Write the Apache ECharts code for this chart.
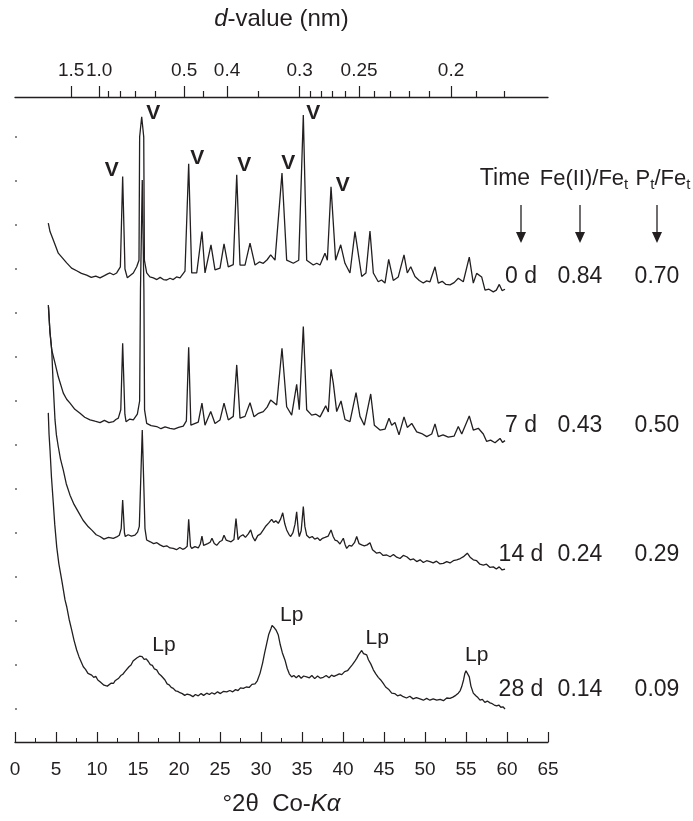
<!DOCTYPE html>
<html>
<head>
<meta charset="utf-8">
<script src="https://cdn.jsdelivr.net/npm/echarts@6/dist/echarts.min.js"></script>
<style>html,body{margin:0;padding:0;background:#fff;}#c{width:693px;height:821px;}</style>
</head>
<body>
<div id="c"></div>
<script>
// ---- data: [2theta (deg, Co-Kalpha), intensity (offset, arbitrary units)] ----
const trace0d = [[4.06,110.4],[4.27,108.5],[4.67,106.6],[5.28,103.6],[5.75,102.6],[6.30,101.4],[6.90,100.2],[7.52,99.6],[8.10,99.0],[8.74,98.6],[9.30,98.1],[9.85,98.4],[10.37,98.0],[10.90,98.5],[11.30,98.9],[11.59,99.1],[12.00,98.7],[12.40,99.1],[12.85,100.5],[13.13,121.0],[13.41,100.0],[13.70,98.0],[14.43,99.1],[14.84,100.5],[15.12,102.0],[15.20,130.0],[15.45,134.6],[15.70,130.0],[15.78,102.0],[16.06,99.1],[16.45,98.2],[16.87,98.0],[17.30,97.6],[17.70,98.1],[18.10,97.6],[18.50,97.5],[18.90,97.9],[19.30,97.6],[19.70,98.2],[20.12,98.0],[20.73,99.5],[21.18,123.9],[21.55,99.1],[22.16,99.1],[22.80,108.5],[23.17,99.1],[23.90,105.5],[24.39,99.8],[25.00,100.2],[25.49,105.7],[26.01,100.5],[26.62,101.0],[27.04,121.4],[27.44,100.9],[28.05,100.9],[28.66,105.9],[29.27,100.9],[29.80,101.6],[30.28,101.3],[30.75,102.1],[31.18,103.2],[31.71,102.0],[32.56,121.8],[33.13,102.0],[33.94,101.3],[34.60,102.0],[35.16,135.0],[35.57,102.0],[36.38,100.9],[36.80,101.3],[37.20,100.9],[37.80,103.6],[38.09,102.0],[38.54,118.7],[38.90,108.0],[39.10,102.0],[39.72,105.5],[40.24,101.3],[40.85,99.1],[41.46,108.5],[42.28,98.3],[42.80,99.1],[43.29,108.6],[43.70,99.1],[44.30,97.1],[44.70,97.5],[45.12,96.8],[45.57,102.2],[46.13,97.4],[46.74,98.2],[47.44,103.2],[47.84,99.1],[48.26,100.5],[48.78,98.3],[49.30,97.4],[49.79,96.8],[50.20,97.3],[50.61,97.1],[51.22,100.5],[51.62,96.8],[52.10,97.2],[52.55,96.5],[53.05,96.4],[53.55,96.9],[54.06,97.9],[54.67,97.1],[55.40,102.7],[55.89,96.8],[56.30,99.0],[56.91,98.2],[57.32,95.2],[57.80,95.4],[58.33,94.8],[58.70,95.2],[59.06,96.5],[59.40,95.1],[59.76,95.4]];

const trace7d = [[4.06,91.8],[4.27,85.5],[4.48,81.6],[4.88,78.6],[5.28,75.5],[5.89,71.8],[6.30,70.4],[6.71,69.5],[7.30,68.1],[7.93,67.2],[8.50,66.3],[9.15,65.7],[9.75,65.4],[10.37,65.1],[10.90,65.6],[11.45,65.1],[11.99,65.3],[12.30,65.8],[12.60,66.1],[12.90,68.0],[13.13,83.1],[13.40,67.0],[13.54,65.3],[14.00,65.9],[14.43,65.7],[14.92,67.0],[15.20,70.0],[15.30,95.0],[15.52,120.2],[15.72,95.0],[15.80,68.0],[16.06,64.9],[16.60,64.4],[17.28,64.2],[17.80,63.7],[18.30,64.1],[18.90,63.8],[19.40,63.6],[19.95,64.0],[20.52,64.3],[20.90,65.5],[21.18,82.2],[21.45,64.5],[21.67,64.2],[22.35,65.2],[22.80,69.5],[23.17,64.5],[23.87,67.6],[24.39,64.9],[25.00,65.7],[25.49,69.5],[26.01,65.7],[26.62,66.5],[27.04,78.2],[27.44,66.1],[28.05,66.5],[28.66,69.6],[29.15,66.4],[29.70,67.2],[30.28,67.6],[30.75,68.6],[31.18,70.2],[31.91,69.1],[32.56,82.0],[33.13,68.7],[33.74,66.8],[34.35,73.8],[34.67,68.0],[35.16,86.9],[35.57,68.0],[36.18,66.8],[36.70,67.0],[37.20,66.4],[37.89,68.9],[38.21,67.5],[38.54,77.2],[38.82,74.0],[39.23,67.6],[39.76,70.0],[40.24,65.8],[40.85,65.3],[41.59,71.9],[42.07,66.5],[42.60,64.5],[43.38,71.6],[43.82,64.5],[44.51,63.4],[45.12,63.6],[45.61,66.1],[45.94,64.5],[46.34,65.1],[46.83,62.3],[47.44,66.4],[47.84,64.0],[48.38,64.9],[48.99,63.0],[49.60,62.6],[50.21,61.9],[50.82,62.5],[51.22,64.8],[51.62,61.9],[52.20,62.3],[52.84,61.8],[53.54,62.0],[54.06,64.2],[54.48,62.5],[55.40,66.6],[55.89,63.4],[56.50,63.8],[57.11,62.5],[57.52,60.8],[58.00,61.1],[58.54,60.5],[59.15,61.5],[59.45,60.6],[59.76,61.0]];

const trace14d = [[4.09,91.4],[4.25,86.0],[4.48,81.6],[4.65,74.0],[4.88,65.7],[5.05,62.3],[5.28,59.6],[5.55,56.8],[5.89,54.3],[6.25,51.2],[6.71,48.6],[7.20,46.5],[7.72,44.8],[8.30,42.9],[8.94,41.4],[9.40,40.6],[9.90,39.6],[10.37,39.2],[10.85,38.6],[11.40,39.0],[11.99,38.8],[12.40,39.1],[12.72,39.5],[12.95,41.0],[13.13,47.5],[13.35,40.0],[13.45,39.2],[13.80,39.6],[14.20,39.3],[14.63,39.5],[14.95,40.2],[15.16,41.5],[15.30,50.0],[15.52,63.4],[15.72,50.0],[15.85,41.0],[16.06,38.4],[16.50,38.0],[16.90,37.6],[17.30,37.8],[17.68,37.3],[18.10,36.9],[18.50,37.1],[18.90,36.6],[19.30,36.5],[19.70,36.2],[20.10,36.7],[20.45,36.3],[20.73,36.5],[21.00,37.0],[21.18,43.1],[21.40,37.0],[21.55,36.5],[21.95,36.9],[22.35,36.6],[22.60,37.5],[22.80,39.3],[23.00,37.2],[23.17,36.8],[23.50,37.6],[23.80,37.9],[24.02,38.8],[24.30,37.6],[24.60,37.2],[24.95,38.0],[25.25,38.3],[25.49,39.5],[25.75,38.4],[26.01,38.2],[26.35,38.0],[26.70,38.5],[26.95,43.3],[27.20,38.5],[27.44,39.2],[27.80,39.6],[28.10,39.0],[28.45,39.8],[28.74,40.7],[29.00,39.1],[29.27,38.2],[29.60,39.4],[29.95,39.8],[30.28,40.7],[30.60,41.6],[30.95,42.3],[31.30,43.1],[31.55,42.4],[31.80,42.8],[32.11,42.2],[32.40,43.2],[32.65,44.6],[32.90,42.1],[33.13,40.7],[33.40,39.7],[33.62,39.2],[33.90,40.1],[34.15,42.0],[34.35,44.8],[34.55,40.5],[34.67,39.2],[34.90,40.5],[35.16,46.0],[35.35,41.5],[35.57,39.5],[35.90,38.9],[36.25,39.2],[36.55,38.6],[36.90,38.9],[37.20,38.3],[37.50,38.8],[37.80,39.0],[38.20,39.3],[38.54,40.7],[38.80,39.2],[39.02,38.4],[39.30,38.2],[39.63,37.5],[40.04,38.8],[40.25,37.4],[40.45,36.5],[40.75,37.2],[41.06,37.0],[41.40,37.8],[41.67,39.2],[41.95,37.6],[42.28,37.3],[42.60,37.1],[42.95,37.3],[43.29,37.8],[43.60,36.2],[44.11,35.4],[44.50,35.6],[44.90,34.9],[45.33,35.0],[45.75,34.6],[46.15,35.1],[46.55,34.5],[46.95,34.2],[47.35,34.9],[47.77,34.6],[48.20,33.9],[48.60,34.1],[48.99,33.5],[49.40,33.9],[49.80,33.3],[50.20,33.7],[50.61,33.5],[51.00,33.2],[51.40,33.6],[51.80,33.0],[52.23,33.1],[52.65,33.5],[53.05,33.2],[53.45,33.7],[53.87,33.9],[54.30,34.2],[54.75,34.7],[55.16,35.4],[55.50,34.5],[55.89,33.9],[56.30,33.7],[56.70,32.9],[57.11,32.7],[57.50,32.9],[57.90,32.2],[58.33,32.3],[58.70,31.8],[59.05,32.3],[59.40,31.6],[59.76,31.8]];

const trace28d = [[4.06,67.3],[4.15,62.5],[4.27,58.9],[4.45,52.6],[4.67,46.8],[4.85,41.9],[5.09,36.8],[5.35,33.0],[5.70,29.3],[6.10,24.8],[6.30,23.3],[6.60,20.4],[6.91,18.0],[7.20,15.6],[7.52,13.4],[7.80,11.9],[8.05,10.8],[8.33,9.6],[8.60,9.0],[8.90,8.1],[9.10,8.4],[9.35,7.7],[9.60,7.2],[9.85,7.4],[10.10,6.6],[10.37,6.2],[10.60,6.0],[10.85,5.4],[11.05,5.7],[11.26,5.2],[11.50,5.3],[11.75,5.9],[12.00,5.8],[12.20,6.4],[12.40,6.6],[12.65,7.0],[12.90,7.6],[13.15,7.9],[13.40,8.5],[13.62,8.9],[13.90,9.6],[14.15,10.0],[14.40,10.9],[14.63,11.1],[14.85,11.6],[15.05,11.3],[15.20,12.0],[15.33,11.8],[15.50,11.9],[15.75,11.3],[16.00,11.4],[16.26,10.8],[16.50,10.1],[16.75,9.9],[17.00,9.1],[17.28,8.9],[17.55,8.0],[17.80,7.6],[18.05,7.1],[18.29,6.6],[18.55,5.7],[18.80,5.5],[19.05,4.9],[19.30,4.7],[19.60,4.1],[19.85,4.0],[20.12,3.7],[20.40,3.5],[20.70,3.1],[21.00,3.4],[21.34,3.2],[21.70,2.8],[22.00,3.3],[22.35,3.0],[22.70,3.5],[23.00,3.1],[23.38,3.6],[23.70,3.3],[24.00,3.7],[24.35,3.4],[24.70,3.9],[25.05,3.5],[25.40,4.0],[25.82,3.9],[26.20,4.2],[26.55,3.9],[26.90,4.4],[27.20,4.2],[27.50,4.8],[27.84,4.7],[28.20,5.0],[28.55,4.9],[28.90,5.6],[29.27,5.7],[29.55,6.4],[29.88,8.1],[30.20,10.5],[30.45,12.8],[30.70,14.9],[30.95,17.0],[31.20,18.2],[31.35,19.0],[31.50,19.1],[31.65,18.4],[31.85,17.9],[32.11,16.8],[32.35,14.6],[32.60,12.8],[32.93,11.1],[33.20,9.2],[33.45,8.0],[33.74,7.3],[34.00,7.6],[34.30,7.1],[34.60,7.6],[34.90,7.0],[35.20,7.5],[35.57,7.3],[35.90,7.1],[36.20,7.6],[36.55,6.9],[36.90,7.5],[37.25,7.0],[37.60,7.2],[37.95,7.6],[38.30,7.1],[38.60,7.7],[38.90,7.4],[39.23,7.7],[39.55,8.0],[39.85,7.8],[40.20,8.5],[40.55,8.7],[40.85,9.4],[41.15,10.1],[41.45,10.9],[41.67,11.5],[41.90,12.3],[42.10,12.6],[42.28,13.3],[42.50,12.6],[42.70,12.9],[42.89,12.3],[43.10,11.2],[43.40,10.2],[43.70,8.9],[44.00,8.0],[44.30,7.2],[44.60,6.6],[44.91,5.8],[45.20,5.0],[45.55,4.5],[45.94,3.6],[46.30,3.5],[46.65,3.0],[47.00,3.2],[47.35,2.8],[47.75,2.5],[48.15,2.9],[48.55,2.3],[48.95,2.6],[49.39,2.3],[49.80,2.0],[50.20,2.4],[50.60,2.0],[51.00,2.3],[51.43,2.0],[51.85,2.2],[52.25,1.9],[52.65,2.5],[53.05,2.4],[53.40,2.7],[53.75,3.1],[54.06,3.6],[54.30,4.2],[54.48,5.1],[54.70,6.6],[54.85,8.0],[55.00,8.7],[55.20,8.5],[55.40,7.3],[55.60,5.2],[55.89,3.6],[56.20,3.0],[56.45,2.6],[56.71,2.0],[57.00,2.2],[57.30,1.5],[57.60,1.8],[57.93,1.4],[58.20,1.2],[58.45,0.9],[58.74,0.7],[59.00,0.9],[59.25,0.4],[59.50,0.5],[59.76,0.0]];

// annotation anchors (data coordinates)
const vivianitePeaks = [[11.79,122.5],[16.87,135.4],[22.23,125.2],[27.96,123.6],[33.33,124.0],[36.38,135.4],[39.96,119.1]];
const lepidoPeaks = [[18.17,14.5],[33.74,21.4],[44.18,16.1],[56.30,12.3]];

// top axis: d-values (nm)
const dMajor = [1.5, 1.0, 0.5, 0.4, 0.3, 0.25, 0.2];
const dMajorLabels = ['1.5', '1.0', '0.5', '0.4', '0.3', '0.25', '0.2'];
const dMinor = [0.9, 0.8, 0.7, 0.6, 0.45, 0.35, 0.29, 0.28, 0.27, 0.26, 0.24, 0.23, 0.22, 0.21, 0.19, 0.18];

// bottom axis ticks
const twoThetaTicks = [0,5,10,15,20,25,30,35,40,45,50,55,60,65];
// side table
const rowTime = ['0 d', '7 d', '14 d', '28 d'];
const rowFe = ['0.84', '0.43', '0.24', '0.14'];
const rowP = ['0.70', '0.50', '0.29', '0.09'];

const LAMBDA = 0.17903; // Co K-alpha, nm
function dToTwoTheta(d) { return 2 * Math.asin(LAMBDA / (2 * d)) * 180 / Math.PI; }
const majorPos = dMajor.map(dToTwoTheta);
const minorPos = dMinor.map(dToTwoTheta);

const INK = '#231f20';
const FONT = "'Liberation Sans', Arial, Helvetica, sans-serif";

const chart = echarts.init(document.getElementById('c'), null, {renderer: 'canvas'});

function traceSeries(data) {
  return {type: 'line', xAxisIndex: 0, yAxisIndex: 0, data: data, showSymbol: false, symbol: 'none',
    lineStyle: {color: INK, width: 1.3}, silent: true, animation: false, z: 3};
}
function labelSeries(data, text, bold) {
  return {type: 'scatter', xAxisIndex: 0, yAxisIndex: 0, data: data, symbolSize: 1,
    itemStyle: {opacity: 0}, silent: true, animation: false, z: 4,
    label: {show: true, position: 'inside', formatter: text, color: INK, opacity: 1, textBorderWidth: 0,
      fontFamily: FONT, fontSize: 21, fontWeight: bold ? 'bold' : 'normal'}};
}

// right-side table (graphic text)
const colX = [521, 580, 657];
const rowY = [277, 426, 555, 690];
const graphics = [];
const hdrY = 179;
const hdrStyle = {fill: INK, font: '22px ' + FONT, textAlign: 'center', textVerticalAlign: 'middle'};
const subRich = {n: {fontSize: 22, fontFamily: FONT, lineHeight: 26, verticalAlign: 'middle', fill: INK},
                 s: {fontSize: 15, fontFamily: FONT, lineHeight: 14, verticalAlign: 'bottom', fill: INK}};
graphics.push({type: 'text', x: 505, y: hdrY, style: Object.assign({}, hdrStyle, {text: 'Time', font: '23px ' + FONT})});
graphics.push({type: 'text', x: 584, y: hdrY, style: Object.assign({}, hdrStyle, {text: '{n|Fe(II)/Fe}{s|t}', rich: subRich})});
graphics.push({type: 'text', x: 663, y: hdrY, style: Object.assign({}, hdrStyle, {text: '{n|P}{s|t}{n|/Fe}{s|t}', rich: subRich})});
colX.forEach(function (x) {
  graphics.push({type: 'line', shape: {x1: x, y1: 205, x2: x, y2: 236}, style: {stroke: INK, lineWidth: 1.3}});
  graphics.push({type: 'polygon', shape: {points: [[x - 5, 232], [x + 5, 232], [x, 243]]}, style: {fill: INK}});
});
rowTime.forEach(function (t, i) {
  [t, rowFe[i], rowP[i]].forEach(function (txt, j) {
    graphics.push({type: 'text', x: colX[j], y: rowY[i], style: {text: txt, fill: INK, font: '23px ' + FONT, textAlign: 'center', textVerticalAlign: 'middle'}});
  });
});

const option = {
  animation: false,
  backgroundColor: '#ffffff',
  grid: {left: 15, right: 145, top: 97, bottom: 79, containLabel: false},
  xAxis: [
    {type: 'value', position: 'bottom', min: 0, max: 65, interval: 5,
     axisLine: {show: true, onZero: false, lineStyle: {color: INK, width: 1.3}},
     axisTick: {show: true, inside: true, length: 10, lineStyle: {color: INK, width: 1.2}},
     minorTick: {show: true, splitNumber: 2, length: 4, lineStyle: {color: INK, width: 1}},
     axisLabel: {show: true, margin: 18, fontSize: 19, color: INK, fontFamily: FONT,
       customValues: twoThetaTicks},
     splitLine: {show: false},
     name: '{a|°2θ  Co-}{b|Kα}', nameLocation: 'middle', nameGap: 50,
     nameTextStyle: {color: INK, rich: {a: {fontSize: 24, fontFamily: FONT, color: INK}, b: {fontSize: 24, fontFamily: FONT, fontStyle: 'italic', color: INK}}}
    },
    {type: 'value', position: 'top', min: 0, max: 65,
     axisLine: {show: true, onZero: false, lineStyle: {color: INK, width: 1.3}},
     axisTick: {show: true, inside: false, length: 11, customValues: majorPos, lineStyle: {color: INK, width: 1.2}},
     axisLabel: {show: true, margin: 17, fontSize: 19, color: INK, fontFamily: FONT, customValues: majorPos,
       formatter: function (v) {
         let best = 0, bd = 1e9;
         majorPos.forEach(function (p, i) { const dd = Math.abs(p - v); if (dd < bd) { bd = dd; best = i; } });
         return dMajorLabels[best];
       }},
     splitLine: {show: false},
     name: '{i|d}{a|-value (nm)}', nameLocation: 'middle', nameGap: 66,
     nameTextStyle: {color: INK, rich: {i: {fontSize: 24, fontFamily: FONT, fontStyle: 'italic', color: INK}, a: {fontSize: 24, fontFamily: FONT, color: INK}}}
    },
    {type: 'value', position: 'top', min: 0, max: 65,
     axisLine: {show: false, onZero: false},
     axisTick: {show: true, inside: false, length: 6, customValues: minorPos, lineStyle: {color: INK, width: 1.2}},
     axisLabel: {show: false},
     splitLine: {show: false}
    }
  ],
  yAxis: {type: 'value', min: -7.5, max: 139.09,
    axisLine: {show: false, onZero: false},
    axisTick: {show: true, inside: true, length: 2, customValues: [0,10,20,30,40,50,60,70,80,90,100,110,120,130],
      lineStyle: {color: '#8a8a8a', width: 2}},
    axisLabel: {show: false}, splitLine: {show: false}},
  series: [
    traceSeries(trace0d), traceSeries(trace7d), traceSeries(trace14d), traceSeries(trace28d),
    labelSeries(vivianitePeaks, 'V', true),
    labelSeries(lepidoPeaks, 'Lp', false)
  ],
  graphic: graphics
};
chart.setOption(option);
</script>
</body>
</html>
